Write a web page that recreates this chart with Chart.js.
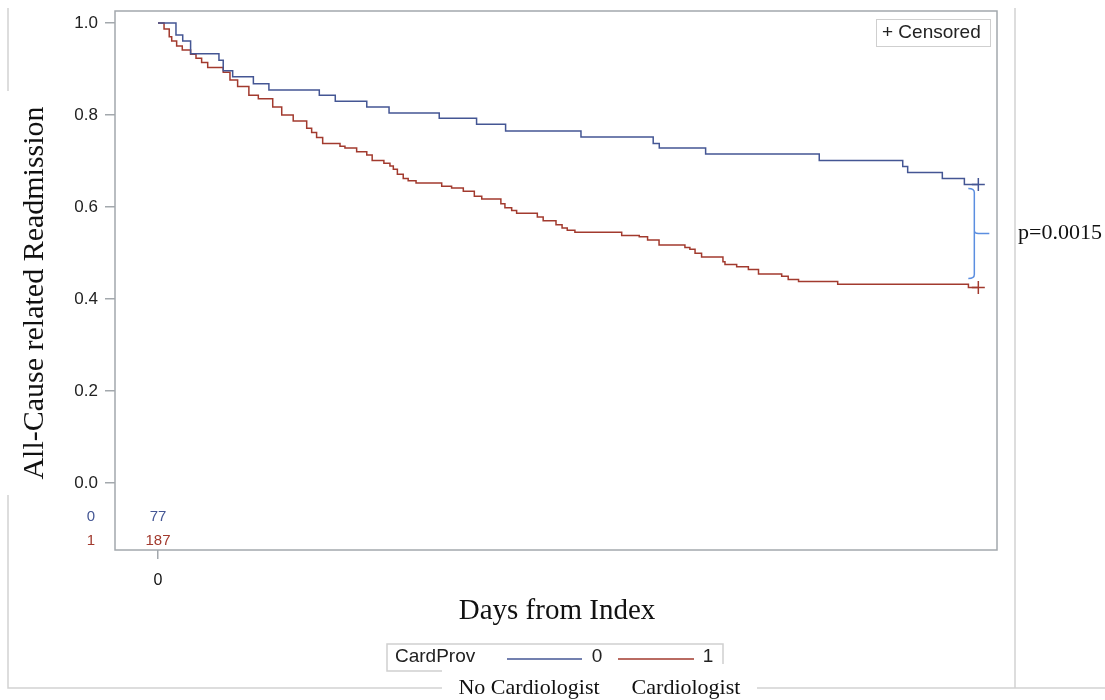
<!DOCTYPE html>
<html>
<head>
<meta charset="utf-8">
<script src="https://cdn.jsdelivr.net/npm/chart.js@4"></script>
<style>
  body { margin: 0; background: #fff; }
  canvas { display: block; }
</style>
</head>
<body>
<canvas id="kmChart" width="1105" height="700"></canvas>
<script>
// Kaplan-Meier data (days, survival)
const blueDays = [0, 8, 11, 14.5, 27.1, 29, 33.2, 42.4, 49.3, 71.7, 78.8, 92.8, 102.7, 125, 141.6, 154.5, 188, 220.1, 222.8, 243.4, 293.9, 331, 333.2, 348.6, 358.4, 364.6];
const blueSurv = [1.0, 0.974, 0.961, 0.933, 0.919, 0.896, 0.883, 0.868, 0.854, 0.843, 0.830, 0.817, 0.804, 0.793, 0.780, 0.765, 0.752, 0.738, 0.728, 0.715, 0.701, 0.688, 0.675, 0.662, 0.649, 0.649];

const redDays = [0, 2.7, 5, 6.1, 8.3, 10.8, 14.5, 16.9, 19.4, 22.1, 29, 32, 35.4, 40.4, 44.6, 51, 55, 60.1, 66.1, 68.3, 70.5, 73.2, 80.9, 83.1, 88.3, 92.8, 95.2, 100.4, 103.1, 104.6, 106.4, 109, 111.2, 114.7, 126.1, 130.5, 135.7, 140.6, 143.9, 152.4, 154.2, 157.2, 159.4, 168.6, 171.2, 176.9, 179.6, 181.9, 185.3, 206.1, 213.9, 217.6, 222.7, 234.2, 236.4, 238.7, 241.6, 251.1, 252, 257.2, 262.4, 266.9, 277.2, 280.1, 284.7, 302.1, 360.2, 364.6];
const redSurv = [1.0, 0.987, 0.970, 0.961, 0.950, 0.941, 0.932, 0.923, 0.914, 0.903, 0.893, 0.876, 0.862, 0.843, 0.835, 0.817, 0.800, 0.787, 0.771, 0.762, 0.751, 0.738, 0.732, 0.728, 0.720, 0.713, 0.701, 0.695, 0.689, 0.682, 0.671, 0.662, 0.657, 0.652, 0.645, 0.641, 0.634, 0.623, 0.617, 0.607, 0.598, 0.592, 0.586, 0.578, 0.570, 0.561, 0.554, 0.549, 0.545, 0.538, 0.535, 0.528, 0.517, 0.512, 0.508, 0.499, 0.491, 0.481, 0.475, 0.470, 0.464, 0.454, 0.449, 0.442, 0.438, 0.432, 0.425, 0.425];

// censored observations (last follow-up)
const blueCensorDays = [364.6];
const blueCensorSurv = [0.649];
const redCensorDays = [364.6];
const redCensorSurv = [0.425];

// number at risk table
const riskGroups = ['0', '1'];
const riskCounts = [77, 187];
const riskRows = [-0.074, -0.126];

const yTicks = [0.0, 0.2, 0.4, 0.6, 0.8, 1.0];
const xTicks = [0];

const legendTitle = 'CardProv';
const legendNames = ['0', '1'];
const groupNames = ['No Cardiologist', 'Cardiologist'];
const pText = 'p=0.0015';

const BLUE = '#445694';
const RED = '#A23A2E';
const AXIS = '#a3a8ad';
const FRAME = '#d2d2d2';
const SANS = 'Arial, "Liberation Sans", sans-serif';
const SERIF = '"Times New Roman", "Liberation Serif", serif';

const toXY = (xs, ys) => xs.map((x, i) => ({ x: x, y: ys[i] }));

// keep the plot frame exactly where the reference has it
function noPad(s) {
  s.paddingTop = 0; s.paddingBottom = 0;
  s.paddingLeft = 0; s.paddingRight = 0;
}

const decorations = {
  id: 'decorations',
  beforeDatasetsDraw(chart) {
    const { ctx, chartArea: a } = chart;
    ctx.save();
    ctx.strokeStyle = AXIS;
    ctx.lineWidth = 1.5;
    ctx.strokeRect(a.left, a.top, a.right - a.left, a.bottom - a.top);
    ctx.restore();
  },
  afterDraw(chart) {
    const { ctx } = chart;
    const xs = chart.scales.x, ys = chart.scales.y;
    ctx.save();

    // outer light frame pieces
    ctx.strokeStyle = FRAME;
    ctx.lineWidth = 1.5;
    ctx.beginPath();
    ctx.moveTo(8, 8); ctx.lineTo(8, 91);
    ctx.moveTo(8, 495); ctx.lineTo(8, 688); ctx.lineTo(442, 688);
    ctx.moveTo(757, 688); ctx.lineTo(1105, 688);
    ctx.moveTo(1015, 8); ctx.lineTo(1015, 688);
    ctx.stroke();

    // axis titles
    ctx.fillStyle = '#111';
    ctx.font = '29px ' + SERIF;
    ctx.textAlign = 'center';
    ctx.textBaseline = 'middle';
    ctx.fillText('Days from Index', 557, 611);
    ctx.save();
    ctx.translate(35, 293);
    ctx.rotate(-Math.PI / 2);
    ctx.font = '30px ' + SERIF;
    ctx.fillText('All-Cause related Readmission', 0, 0);
    ctx.restore();

    // censored inset legend
    ctx.strokeStyle = '#cfcfcf';
    ctx.lineWidth = 1;
    ctx.strokeRect(876.5, 19.5, 114, 27);
    ctx.fillStyle = '#222';
    ctx.font = '19px ' + SANS;
    ctx.textAlign = 'left';
    ctx.fillText('+ Censored', 882, 33);

    // at risk table
    ctx.font = '15px ' + SANS;
    ctx.textAlign = 'center';
    riskGroups.forEach((g, i) => {
      const y = ys.getPixelForValue(riskRows[i]);
      ctx.fillStyle = i === 0 ? BLUE : RED;
      ctx.fillText(g, 91, y);
      ctx.fillText(String(riskCounts[i]), xs.getPixelForValue(0), y);
    });

    // log-rank bracket
    const bx = xs.getPixelForValue(blueCensorDays[0]) - 4;
    const top = ys.getPixelForValue(blueCensorSurv[0]) + 5;
    const bot = ys.getPixelForValue(redCensorSurv[0]) - 10;
    const mid = (top + bot) / 2;
    ctx.strokeStyle = '#5b8ee0';
    ctx.lineWidth = 1.5;
    ctx.beginPath();
    ctx.moveTo(bx - 6, top - 1);
    ctx.quadraticCurveTo(bx, top - 1, bx, top + 3);
    ctx.lineTo(bx, bot - 3);
    ctx.quadraticCurveTo(bx, bot + 1, bx - 6, bot + 1);
    ctx.moveTo(bx, mid - 3);
    ctx.quadraticCurveTo(bx, mid, bx + 4, mid);
    ctx.lineTo(bx + 15, mid);
    ctx.stroke();
    ctx.fillStyle = '#111';
    ctx.font = '22px ' + SERIF;
    ctx.textAlign = 'left';
    ctx.fillText(pText, 1018, mid);

    // bottom legend
    ctx.strokeStyle = '#cfcfcf';
    ctx.lineWidth = 1.5;
    ctx.strokeRect(387, 644, 336, 27);
    ctx.fillStyle = '#fff';
    ctx.fillRect(442, 664, 315, 36);
    ctx.fillStyle = '#222';
    ctx.font = '19px ' + SANS;
    ctx.fillText(legendTitle, 395, 657);
    ctx.lineWidth = 1.5;
    ctx.strokeStyle = BLUE;
    ctx.beginPath(); ctx.moveTo(507, 659); ctx.lineTo(582, 659); ctx.stroke();
    ctx.strokeStyle = RED;
    ctx.beginPath(); ctx.moveTo(618, 659); ctx.lineTo(694, 659); ctx.stroke();
    ctx.textAlign = 'center';
    ctx.fillText(legendNames[0], 597, 657);
    ctx.fillText(legendNames[1], 708, 657);

    ctx.fillStyle = '#111';
    ctx.font = '22px ' + SERIF;
    ctx.fillText(groupNames[0], 529, 688);
    ctx.fillText(groupNames[1], 686, 688);
    ctx.restore();
  }
};

new Chart(document.getElementById('kmChart'), {
  type: 'line',
  data: {
    datasets: [
      { data: toXY(blueDays, blueSurv), borderColor: BLUE, borderWidth: 1.5, stepped: true, pointRadius: 0, fill: false },
      { data: toXY(redDays, redSurv), borderColor: RED, borderWidth: 1.5, stepped: true, pointRadius: 0, fill: false },
      { data: toXY(blueCensorDays, blueCensorSurv), showLine: false, pointStyle: 'cross', pointRadius: 6.5, borderColor: BLUE, pointBorderWidth: 1.5 },
      { data: toXY(redCensorDays, redCensorSurv), showLine: false, pointStyle: 'cross', pointRadius: 6.5, borderColor: RED, pointBorderWidth: 1.5 }
    ]
  },
  options: {
    responsive: false,
    animation: false,
    layout: { padding: { left: 0, right: 108, top: 11, bottom: 0 } },
    plugins: { legend: { display: false }, tooltip: { enabled: false } },
    scales: {
      x: {
        type: 'linear',
        min: -19.1,
        max: 372.9,
        afterFit(s) { s.height = 150; noPad(s); },
        afterBuildTicks(s) { s.ticks = xTicks.map(v => ({ value: v })); },
        grid: { drawOnChartArea: false, drawTicks: true, tickLength: 9, color: AXIS, lineWidth: 1.5 },
        border: { display: false },
        ticks: { padding: 12, color: '#111', font: { family: SANS, size: 16 }, maxRotation: 0, autoSkip: false }
      },
      y: {
        min: -0.146,
        max: 1.026,
        afterFit(s) { s.width = 115; noPad(s); },
        afterBuildTicks(s) { s.ticks = yTicks.map(v => ({ value: v })); },
        grid: { drawOnChartArea: false, drawTicks: true, tickLength: 10, color: AXIS, lineWidth: 1.5 },
        border: { display: false },
        ticks: { padding: 7, color: '#222', font: { family: SANS, size: 17 }, callback: v => v.toFixed(1) }
      }
    }
  },
  plugins: [decorations]
});
</script>
</body>
</html>
